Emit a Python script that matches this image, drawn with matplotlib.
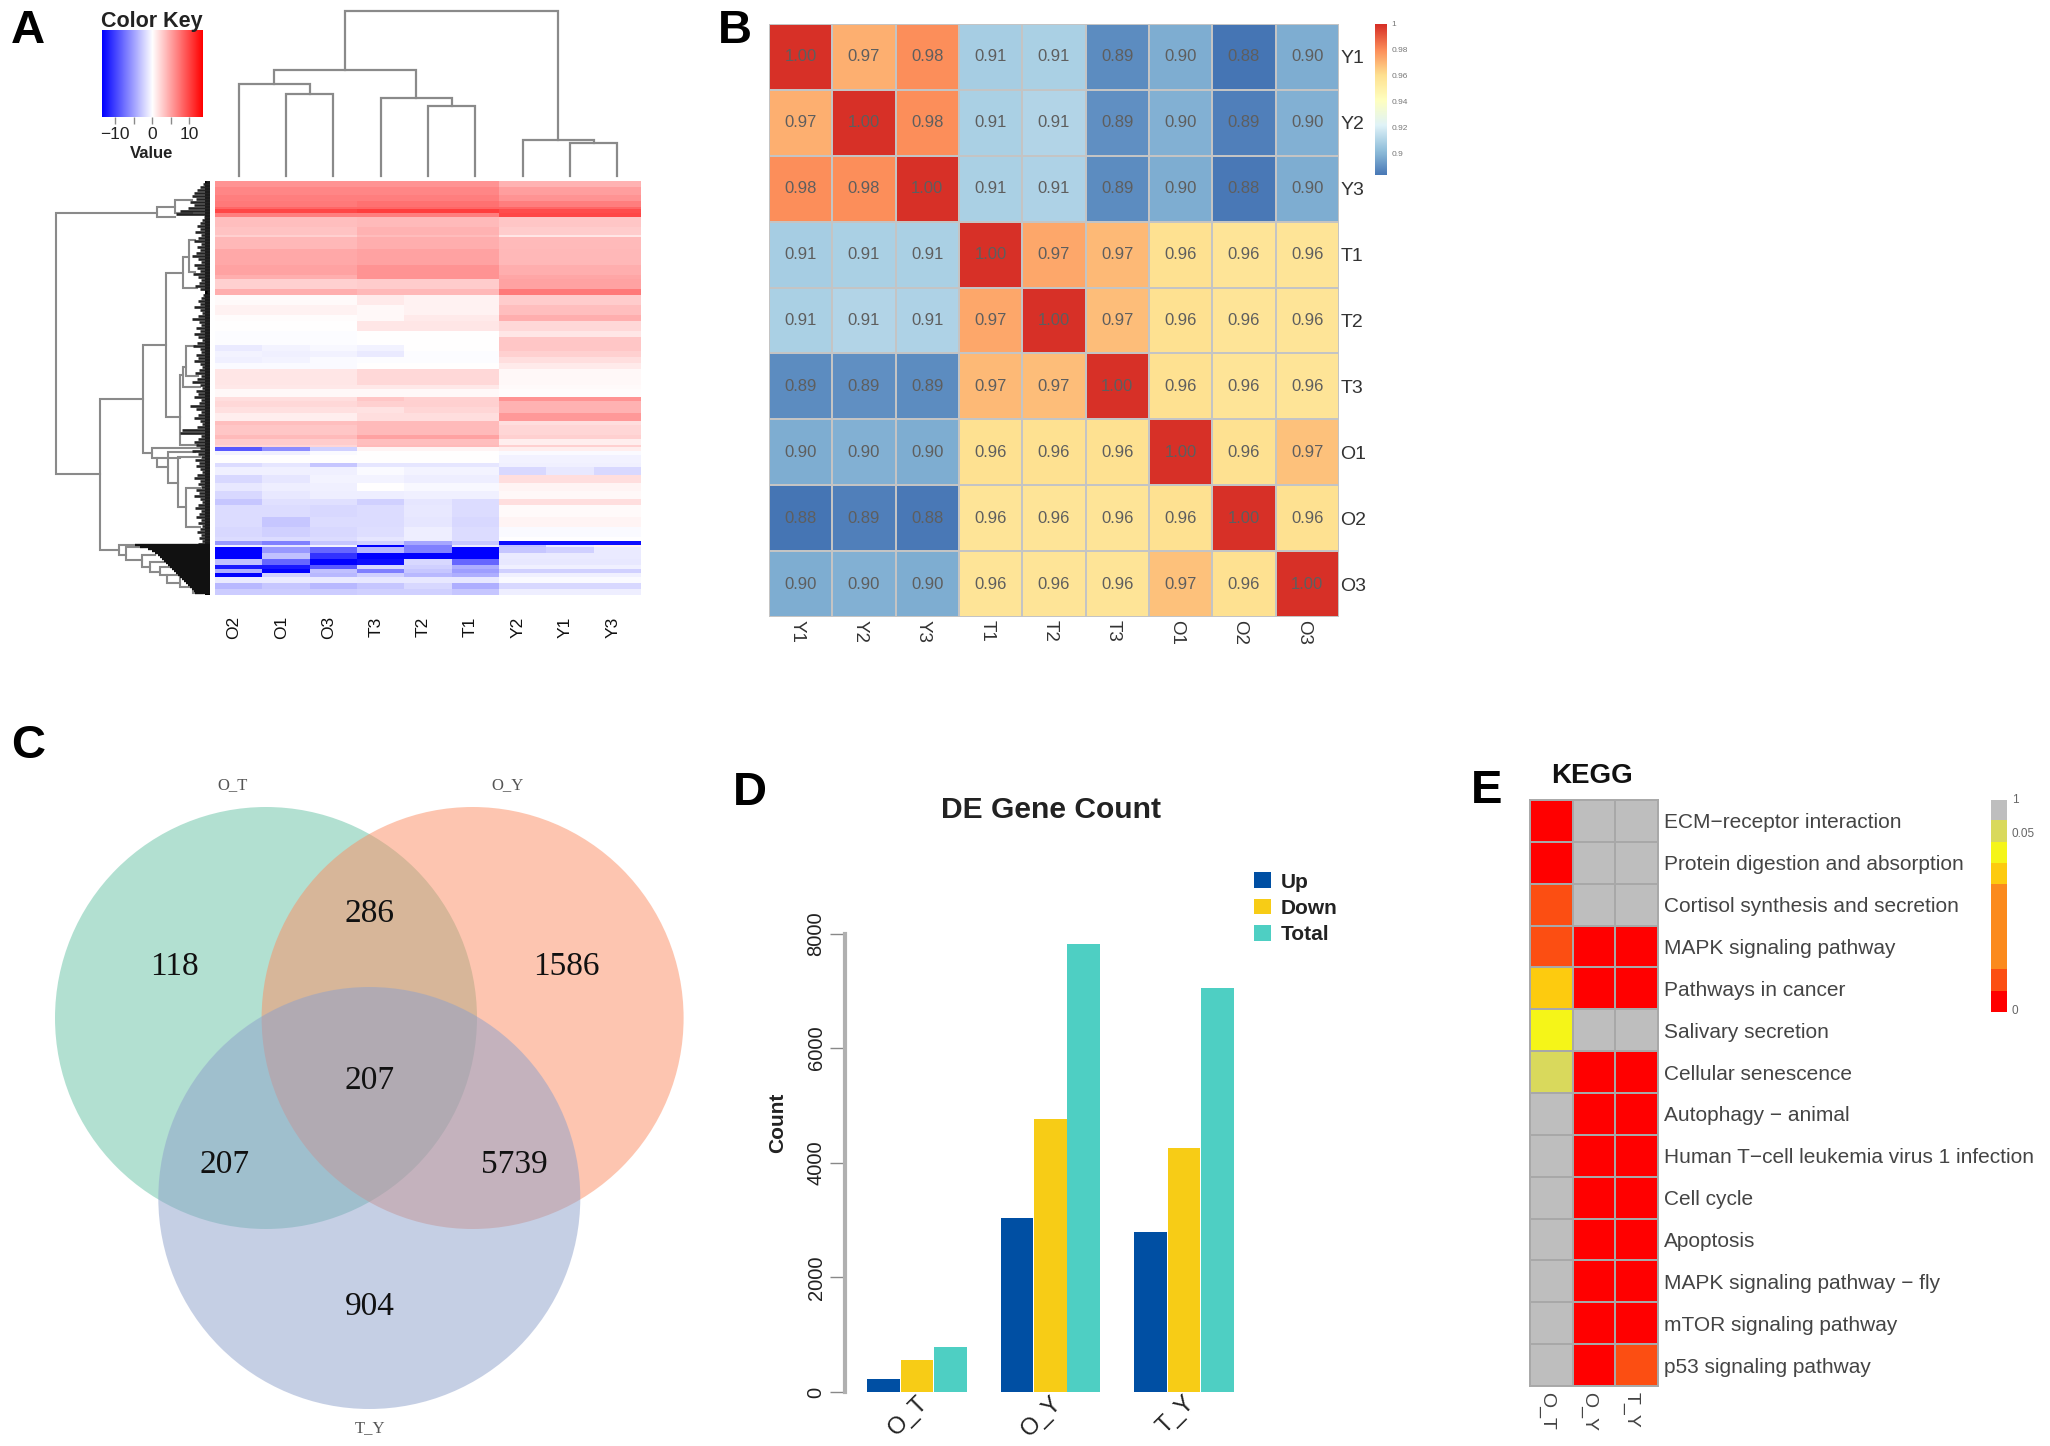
import numpy as np
import matplotlib
matplotlib.use("Agg")
import matplotlib.pyplot as plt
from matplotlib.colors import LinearSegmentedColormap, ListedColormap, BoundaryNorm
from matplotlib.patches import Circle
from matplotlib.transforms import ScaledTranslation

plt.rcParams['font.family'] = ['Liberation Sans', 'DejaVu Sans']

# ---------- Panel A data ----------
hm_cols = ['O2', 'O1', 'O3', 'T3', 'T2', 'T1', 'Y2', 'Y1', 'Y3']
key_max = 13.5
hm_row_counts = [3, 4, 3, 3, 1, 2, 2, 5, 4, 1, 6, 8, 5, 2, 5, 3,
                 5, 5, 3, 5, 3, 4, 3, 3, 3, 3, 8,
                 2, 4, 2, 3, 3, 4, 2, 5, 2, 3, 1, 2, 2, 4, 2, 4, 4, 4, 4, 3, 6, 5, 5, 2, 2, 1,
                 3, 3, 3, 2, 2, 2, 3, 3, 3]
# row values as a fraction of the colour key maximum
hm_rows = [
    [.42, .42, .42, .42, .42, .42, .30, .30, .30],
    [.47, .47, .47, .47, .47, .47, .38, .38, .38],
    [.50, .50, .50, .50, .50, .50, .42, .42, .42],
    [.52, .52, .52, .55, .55, .55, .50, .50, .50],
    [.60, .60, .60, .60, .60, .60, .60, .60, .60],
    [.72, .72, .72, .75, .75, .75, .70, .70, .70],
    [.50, .50, .50, .50, .50, .50, .72, .72, .72],
    [.25, .25, .25, .27, .27, .27, .22, .22, .22],
    [.23, .23, .23, .30, .30, .30, .20, .20, .20],
    [.18, .18, .18, .26, .26, .26, .10, .10, .10],
    [.28, .28, .28, .32, .32, .32, .27, .27, .27],
    [.34, .34, .34, .36, .36, .36, .28, .28, .28],
    [.36, .36, .36, .42, .42, .42, .32, .32, .32],
    [.32, .32, .32, .42, .42, .42, .35, .35, .35],
    [.18, .18, .18, .20, .20, .20, .36, .36, .36],
    [.32, .32, .32, .28, .28, .28, .52, .52, .52],
    [.02, .02, .02, .08, .05, .05, .20, .20, .20],
    [.05, .05, .05, .03, .05, .05, .25, .25, .25],
    [.01, .01, .01, .03, .08, .08, .32, .32, .32],
    [0, 0, 0, .10, .10, .10, .15, .15, .15],
    [-.01, -.01, -.01, 0, 0, 0, .10, .10, .10],
    [-.01, -.01, -.01, 0, 0, 0, .22, .22, .22],
    [-.08, -.04, -.03, -.05, 0, 0, .22, .22, .22],
    [-.04, -.06, -.05, -.08, -.01, -.01, .18, .18, .18],
    [-.06, -.04, -.02, -.01, -.01, -.01, .13, .13, .13],
    [-.02, -.02, -.02, 0, 0, 0, .08, .08, .08],
    [.10, .10, .10, .15, .15, .15, .03, .03, .03],
    [.09, .09, .09, .09, .09, .09, .02, .02, .02],
    [.03, .03, .03, .03, .03, .03, .01, .01, .01],
    [.13, .13, .13, .22, .18, .18, .42, .42, .42],
    [.15, .15, .15, .18, .18, .18, .30, .30, .30],
    [.12, .12, .12, .11, .16, .16, .30, .30, .30],
    [.07, .07, .07, .13, .13, .13, .40, .40, .40],
    [.25, .25, .25, .27, .27, .27, .13, .13, .13],
    [.22, .22, .22, .27, .27, .27, .16, .16, .16],
    [.27, .27, .27, .36, .36, .36, .18, .18, .18],
    [.20, .20, .20, .25, .25, .25, .07, .07, .07],
    [.16, .16, .16, .27, .27, .27, .18, .18, .18],
    [-.65, -.45, -.18, .04, .04, .04, .07, .07, .07],
    [-.04, -.06, -.02, 0, 0, 0, -.02, -.02, -.02],
    [0, 0, 0, 0, 0, 0, -.05, -.05, -.05],
    [-.14, -.10, -.22, -.10, -.10, -.10, -.06, -.06, -.06],
    [-.06, -.06, -.06, -.02, -.04, -.04, -.15, -.09, -.15],
    [-.15, -.10, -.04, -.04, -.07, -.07, .13, .13, .13],
    [-.09, -.07, -.06, 0, -.03, -.03, .04, .04, .04],
    [-.15, -.09, -.07, -.07, -.06, -.06, .03, .03, .03],
    [-.22, -.12, -.12, -.18, -.10, -.14, .13, .13, .13],
    [-.14, -.14, -.15, -.14, -.09, -.14, .02, .02, .02],
    [-.14, -.22, -.14, -.14, -.10, -.15, .04, .04, .04],
    [-.15, -.18, -.15, -.13, -.07, -.14, -.02, -.02, -.02],
    [-.14, -.14, -.14, -.10, -.07, -.14, 0, 0, 0],
    [-.40, -.50, -.22, -.18, -.35, -.22, -.95, -.95, -.95],
    [-.06, -.10, -.04, -1, -.50, -.08, -.25, -.08, .06],
    [-1, -.40, -.60, -.28, -.50, -1, -.22, -.18, -.08],
    [-1, -.25, -.80, -1, -1, -1, -.08, -.08, -.08],
    [-.25, -.60, -1, -.95, -.15, -.60, -.09, -.09, -.09],
    [-.90, -.90, -.65, -.15, -.18, -.32, -.06, -.06, -.06],
    [-.32, -1, -.25, -.50, -.22, -.38, -.18, -.18, -.18],
    [-1, -.18, -.28, -.18, -.28, -.32, -.06, -.06, -.06],
    [-.08, -.08, -.08, -.09, -.09, -.09, -.02, -.02, -.02],
    [-.28, -.22, -.28, -.22, -.15, -.32, -.15, -.15, -.15],
    [-.20, -.20, -.20, -.18, -.18, -.22, -.07, -.07, -.07],
]
key_ticks = [-10, -5, 0, 5, 10]
key_labels = ['\u221210', '', '0', '', '10']

# column dendrogram merges: child a, child b, height
col_merges = [(1, 2, 82), (0, 9, 92), (4, 5, 70), (3, 11, 78), (10, 12, 106),
              (7, 8, 33), (6, 14, 36), (13, 15, 165)]

# row dendrogram merges: height, top y, bottom y, top child height, bottom child height
row_merges = [
    (154, 32, 293, 53, 110), (53, 26, 36, 35, 35), (35, 19, 32, 18, 18),
    (110, 218, 369, 67, 91), (67, 164, 272, 44, 58), (44, 92, 236, 27, 30),
    (27, 76, 107, 21, 13), (21, 59, 91, 15, 15), (30, 194, 264, 27, 12),
    (27, 186, 206, 24, 10), (24, 165, 195, 15, 12), (58, 267, 277, 10, 53),
    (53, 277, 286, 30, 42), (42, 271, 302, 15, 32), (32, 276, 326, 10, 24),
    (24, 307, 346, 10, 10), (91, 364, 374, 75, 84), (84, 366, 379, 68, 68),
    (68, 374, 386, 55, 60), (60, 381, 391, 45, 50), (50, 386, 394, 35, 43),
    (43, 394, 402, 30, 30), (30, 396, 406, 20, 17), (17, 406, 412, 8, 8),
]
tips_upper = [4, 7, 10, 13, 16, 18, 14, 20, 16, 22, 30, 34, 6, 8, 10, 13, 10, 15, 9, 12,
              16, 9, 13, 10, 14, 18, 12, 9, 16, 13, 10, 17, 12, 9, 11, 15, 10, 3, 7, 9,
              12, 10, 16, 10, 8, 12, 18, 11, 9, 14, 10, 16, 12, 8, 13, 17, 10, 9, 14, 12,
              16, 10, 8, 11, 15, 9, 13, 18, 10, 8, 14, 12, 16, 9, 11, 20, 14, 9, 12, 16,
              10, 8, 13, 28, 30, 9, 12, 16, 14, 10, 18, 12, 9, 15, 11, 14, 10, 8, 13, 16,
              10, 12, 9, 14, 11, 16, 10, 8, 12, 15, 9, 11, 14, 9, 12, 8, 10, 13, 9, 11, 8, 12]
tips_lower = [75, 70, 62, 58, 55, 52, 50, 48, 46, 44, 42, 40, 38, 36, 34, 32, 30, 28, 26,
              24, 22, 20, 18, 16, 15]

# ---------- Panel B data ----------
corr_labels = ['Y1', 'Y2', 'Y3', 'T1', 'T2', 'T3', 'O1', 'O2', 'O3']
corr_values = [
    [1.00, 0.972, 0.98, 0.907, 0.908, 0.888, 0.897, 0.882, 0.897],
    [0.972, 1.00, 0.98, 0.908, 0.91, 0.889, 0.898, 0.885, 0.898],
    [0.98, 0.98, 1.00, 0.908, 0.909, 0.888, 0.897, 0.883, 0.897],
    [0.907, 0.908, 0.908, 1.00, 0.974, 0.97, 0.96, 0.958, 0.958],
    [0.908, 0.91, 0.909, 0.974, 1.00, 0.969, 0.96, 0.958, 0.958],
    [0.888, 0.889, 0.888, 0.97, 0.969, 1.00, 0.96, 0.958, 0.958],
    [0.897, 0.898, 0.897, 0.96, 0.96, 0.96, 1.00, 0.96, 0.968],
    [0.882, 0.885, 0.883, 0.958, 0.958, 0.958, 0.96, 1.00, 0.96],
    [0.897, 0.898, 0.897, 0.958, 0.958, 0.958, 0.968, 0.96, 1.00],
]
corr_cbar_ticks = [1.0, 0.98, 0.96, 0.94, 0.92, 0.9]
corr_cbar_labels = ['1', '0.98', '0.96', '0.94', '0.92', '0.9']

# ---------- Panel C data ----------
venn_sets = ['O_T', 'O_Y', 'T_Y']
venn_counts = [118, 286, 1586, 207, 207, 5739, 904]

# ---------- Panel D data ----------
de_groups = ['O_T', 'O_Y', 'T_Y']
de_up = [230, 3040, 2790]
de_down = [555, 4770, 4250]
de_total = [790, 7810, 7050]
de_ticks = [0, 2000, 4000, 6000, 8000]

# ---------- Panel E data ----------
kegg_terms = ['ECM\u2212receptor interaction', 'Protein digestion and absorption',
              'Cortisol synthesis and secretion', 'MAPK signaling pathway', 'Pathways in cancer',
              'Salivary secretion', 'Cellular senescence', 'Autophagy \u2212 animal',
              'Human T\u2212cell leukemia virus 1 infection', 'Cell cycle', 'Apoptosis',
              'MAPK signaling pathway \u2212 fly', 'mTOR signaling pathway', 'p53 signaling pathway']
kegg_cols = ['O_T', 'O_Y', 'T_Y']
kegg_p = [[0.001, 1, 1], [0.001, 1, 1], [0.007, 1, 1], [0.007, 0.001, 0.001],
          [0.034, 0.001, 0.001], [0.037, 1, 1], [0.046, 0.001, 0.001], [1, 0.001, 0.001],
          [1, 0.001, 0.001], [1, 0.001, 0.001], [1, 0.001, 0.001], [1, 0.001, 0.001],
          [1, 0.001, 0.001], [1, 0.001, 0.007]]
kegg_bounds = [0, 0.005, 0.01, 0.03, 0.035, 0.04, 0.05, 1.01]
kegg_colors = ['#ff0000', '#fc4e12', '#fb8a1d', '#fdcb0f', '#f5f518', '#d9d95c', '#bebebe']
kegg_bar_p = [0.001, 0.007, 0.02, 0.02, 0.02, 0.02, 0.034, 0.037, 0.046, 1]

# ---------- Figure ----------
W, H = 2050, 1446
fig = plt.figure(figsize=(W / 100, H / 100), dpi=100, facecolor='white')


def ax_px(x0, y0, x1, y1, **kw):
    return fig.add_axes([x0 / W, 1 - y1 / H, (x1 - x0) / W, (y1 - y0) / H], **kw)


def nudge(labels, dx_px):
    for t in labels:
        t.set_transform(t.get_transform() + ScaledTranslation(dx_px / 100, 0, fig.dpi_scale_trans))


overlay = ax_px(0, 0, W, H, zorder=10)
overlay.set_xlim(0, W)
overlay.set_ylim(H, 0)
overlay.axis('off')
overlay.patch.set_alpha(0)

for lab, x, y in [('A', 11, 43), ('B', 718, 43), ('C', 11, 758), ('D', 733, 805), ('E', 1471, 803)]:
    overlay.text(x, y, lab, fontsize=34, fontweight='bold', color='black', ha='left', va='baseline')

# ---------- Panel A ----------
GRAY = '#8a8a8a'
ax = ax_px(215, 181, 641, 595)
ax.imshow(np.repeat(np.array(hm_rows) * key_max, hm_row_counts, axis=0), aspect='auto', cmap='bwr',
          vmin=-key_max, vmax=key_max, interpolation='nearest')
ax.axis('off')
for i, c in enumerate(hm_cols):
    overlay.text(215 + (i + 0.40) * (641 - 215) / 9, 627, c, rotation=90, ha='center', va='center',
                 fontsize=12.5, color='#111111')

# top dendrogram
ax = ax_px(215, 11, 641, 175.6)
ax.set_xlim(-0.5, 8.5)
ax.set_ylim(0, 165)
ax.axis('off')
nodes = {i: (float(i), 0.0) for i in range(len(hm_cols))}
for k, (a, b, h) in enumerate(col_merges):
    xa, ha = nodes[a]
    xb, hb = nodes[b]
    ax.plot([xa, xa, xb, xb], [ha, h, h, hb], color=GRAY, lw=1.6, solid_joinstyle='miter', clip_on=False)
    nodes[len(hm_cols) + k] = ((xa + xb) / 2, h)

# row dendrogram
ax = ax_px(50, 181, 210, 595)
ax.set_xlim(160, 0)
ax.set_ylim(414, 0)
ax.axis('off')
for h, y1, y2, h1, h2 in row_merges:
    ax.plot([h1, h, h, h2], [y1, y1, y2, y2], color=GRAY, lw=1.5, solid_joinstyle='miter', clip_on=False)
tip_y = np.arange(len(tips_upper)) * 3
ax.hlines(tip_y, 0, tips_upper, color='#222222', lw=1.9)
tip_y2 = 364 + np.arange(len(tips_lower)) * 2
ax.hlines(tip_y2, 0, tips_lower, color='#111111', lw=1.7)
ax.axvspan(0, 5, color='black', lw=0)

# color key
ax = ax_px(102, 30, 202.5, 117)
ax.imshow(np.linspace(-key_max, key_max, 256)[None, :], aspect='auto', cmap='bwr', vmin=-key_max, vmax=key_max,
          extent=[-key_max, key_max, 0, 1])
ax.set_yticks([])
ax.set_xticks(key_ticks)
ax.set_xticklabels(key_labels, fontsize=12.5, color='#222222')
ax.tick_params(axis='x', length=5, width=1, color=GRAY, pad=2)
for s in ax.spines.values():
    s.set_visible(False)
overlay.text(152, 22, 'Color Key', fontsize=15.5, fontweight='bold', ha='center', va='center', color='#222222')
overlay.text(152, 154, 'Value', fontsize=12, fontweight='bold', ha='center', va='center', color='#222222')

# ---------- Panel B ----------
rdylbu = LinearSegmentedColormap.from_list('rdylbu7', ['#4575B4', '#91BFDB', '#E0F3F8', '#FFFFBF',
                                                       '#FEE090', '#FC8D59', '#D73027'])
bx0, by0, bx1, by1 = 769, 24, 1339, 617
ax = ax_px(bx0, by0, bx1, by1)
corr = np.array(corr_values)
ax.pcolormesh(corr, cmap=rdylbu, vmin=0.882, vmax=1.0, edgecolors='#c4c4c4', linewidth=1.2)
ax.set_ylim(9, 0)
ax.set_xlim(0, 9)
for s in ax.spines.values():
    s.set_visible(False)
ax.tick_params(length=0)
for r in range(9):
    for c in range(9):
        ax.text(c + 0.5, r + 0.5, f'{corr[r, c]:.2f}', ha='center', va='center', fontsize=12, color='#5e5e5e')
ax.yaxis.tick_right()
ax.set_yticks(np.arange(9) + 0.5)
ax.set_yticklabels(corr_labels, fontsize=14, color='#333333')
ax.set_xticks(np.arange(9) + 0.5)
ax.set_xticklabels(corr_labels, fontsize=13.5, color='#333333', rotation=270)
ax.tick_params(axis='y', pad=1)
ax.tick_params(axis='x', pad=2)
nudge(ax.get_xticklabels(), -4)

ax = ax_px(1375, 24, 1387, 175)
ax.imshow(np.linspace(1.0, 0.883, 256)[:, None], aspect='auto', cmap=rdylbu, vmin=0.882, vmax=1.0,
          extent=[0, 1, 0.883, 1.0])
ax.set_xticks([])
ax.yaxis.tick_right()
ax.set_yticks(corr_cbar_ticks)
ax.set_yticklabels(corr_cbar_labels, fontsize=6, color='#777777')
ax.tick_params(length=0, pad=3)
for s in ax.spines.values():
    s.set_visible(False)

# ---------- Panel C ----------
venn_r = 211
venn_centers = [(266, 1018), (472.6, 1018), (369.3, 1198)]
venn_fill = ['#66C2A5', '#FC8D62', '#8DA0CB']
for (cx, cy), col in zip(venn_centers, venn_fill):
    overlay.add_patch(Circle((cx, cy), venn_r, facecolor=col, alpha=0.5, edgecolor='none', zorder=1))
venn_pos = [(174, 966.5), (370, 913.5), (566, 966.5), (370, 1080.5), (225, 1164.5), (514, 1164.5), (370, 1306.5)]
for n, (x, y) in zip(venn_counts, venn_pos):
    overlay.text(x, y, str(n), fontsize=24, family='Liberation Serif', ha='center', va='center',
                 color='#111111', zorder=3)
for s, (x, y) in zip(venn_sets, [(233, 785), (507.6, 785), (370, 1428)]):
    overlay.text(x, y, s, fontsize=12, family='Liberation Serif', ha='center', va='center', color='#555555')

# ---------- Panel D ----------
ax = ax_px(845, 933.5, 1264, 1392)
ax.set_xlim(-0.539, 2.6)
ax.set_ylim(0, 8000)
xg = np.arange(len(de_groups))
bw = 0.25
ax.bar(xg - bw, de_up, bw * 0.98, color='#004fa3', label='Up', clip_on=False)
ax.bar(xg, de_down, bw * 0.98, color='#f7cc16', label='Down', clip_on=False)
ax.bar(xg + bw, de_total, bw * 0.98, color='#4ecfc3', label='Total', clip_on=False)
for s in ['top', 'right', 'bottom']:
    ax.spines[s].set_visible(False)
ax.patch.set_alpha(0)
ax.spines['left'].set_color('#b0b0b0')
ax.spines['left'].set_linewidth(3)
ax.set_yticks(de_ticks)
ax.set_yticklabels([str(v) for v in de_ticks], rotation=90, va='center', fontsize=14.5, color='#222222')
ax.tick_params(axis='y', length=11, width=1, color='#888888', pad=3)
ax.set_xticks(xg)
ax.set_xticklabels(de_groups, rotation=45, ha='right', rotation_mode='anchor', fontsize=17, color='#222222')
ax.tick_params(axis='x', length=0, pad=0)
overlay.text(778, 1123, 'Count', rotation=90, fontsize=15, fontweight='bold', color='#222222', ha='center', va='center')
overlay.text(1051, 810, 'DE Gene Count', fontsize=21.6, fontweight='bold', ha='center', va='center', color='#222222')
ax.legend(loc='upper left', bbox_to_anchor=(1244 / W, 1 - 862 / H), bbox_transform=fig.transFigure, frameon=False,
          prop={'size': 15, 'weight': 'bold'}, labelcolor='#222222', handlelength=0.8, handleheight=0.8,
          handletextpad=0.45, labelspacing=0.33, borderpad=0)

# ---------- Panel E ----------
kcmap = ListedColormap(kegg_colors)
knorm = BoundaryNorm(kegg_bounds, kcmap.N)
ex0, ey0, ex1, ey1 = 1530, 800, 1658, 1386
ax = ax_px(ex0, ey0, ex1, ey1)
ax.pcolormesh(np.array(kegg_p), cmap=kcmap, norm=knorm, edgecolors='#a8a8a8', linewidth=1.4)
ax.set_ylim(14, 0)
ax.set_xlim(0, 3)
for s in ax.spines.values():
    s.set_color('#a8a8a8')
    s.set_linewidth(1.4)
ax.yaxis.tick_right()
ax.set_yticks(np.arange(14) + 0.5)
ax.set_yticklabels(kegg_terms, fontsize=15, color='#444444')
ax.set_xticks(np.arange(3) + 0.5)
ax.set_xticklabels(kegg_cols, rotation=270, fontsize=14, color='#444444')
ax.tick_params(length=0, pad=4)
nudge(ax.get_xticklabels(), -5)
overlay.text(1592, 776, 'KEGG', fontsize=20, fontweight='bold', ha='center', va='center', color='#111111')

ax = ax_px(1991, 800, 2007, 1012)
ax.imshow(np.array(kegg_bar_p)[:, None], aspect='auto', cmap=kcmap, norm=knorm, origin='lower',
          interpolation='nearest', extent=[0, 1, 1, 0])
ax.axis('off')
for lab, y in [('1', 800), ('0.05', 834), ('0', 1011)]:
    overlay.text(2012, y, lab, fontsize=8.5, color='#666666', ha='left', va='center')

fig.savefig('out.png', dpi=100, facecolor='white')
